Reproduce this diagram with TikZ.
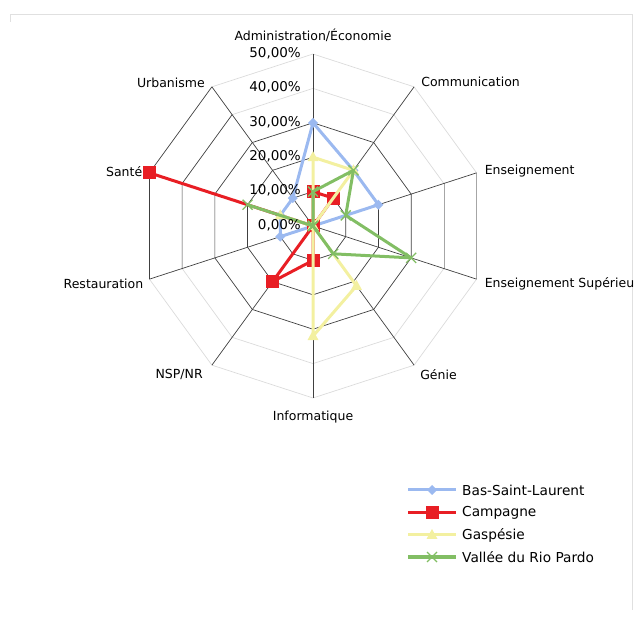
\documentclass[tikz,border=0pt]{standalone}
\usepackage{fontspec}
\setmainfont{DejaVu Sans}
\usetikzlibrary{positioning}

\definecolor{bslblue}{RGB}{155,185,240}
\definecolor{camred}{RGB}{232,30,36}
\definecolor{gasyellow}{RGB}{243,240,160}
\definecolor{riogreen}{RGB}{130,190,100}

\tikzset{
  gridline/.style={black!75, line width=0.7pt},
  midgrid/.style={black!35, line width=0.7pt},
  faintgrid/.style={black!14, line width=0.7pt},
  axislabel/.style={font=\fontsize{12.5}{15}\selectfont, inner sep=0pt},
  ticklabel/.style={font=\fontsize{13.5}{16}\selectfont, anchor=east, inner sep=0pt},
  legendlabel/.style={font=\fontsize{13.7}{16}\selectfont, anchor=west, inner sep=0pt},
  serie/.style={line width=3pt, line join=round},
}

% markers of the four series
\newcommand{\bslmark}[1]{\fill[bslblue] (#1) +(0,5) -- +(5,0) -- +(0,-5) -- +(-5,0) -- cycle;}
\newcommand{\cammark}[1]{\fill[camred] (#1) +(-6.5,-6.5) rectangle +(6.5,6.5);}
\newcommand{\gasmark}[1]{\fill[gasyellow] (#1) +(0,6) -- +(5.5,-4) -- +(-5.5,-4) -- cycle;}
\newcommand{\riomark}[1]{\draw[riogreen, line width=1.3pt] (#1) +(-5,-5) -- +(5,5) (#1) +(-5,5) -- +(5,-5);}

\begin{document}
\begin{tikzpicture}[x=1pt,y=1pt]
  \useasboundingbox (0,0) rectangle (639,634);

  % faint frame of the chart area
  \draw[black!12] (10,612) -- (10,620) -- (632,620) -- (632,24);

  \begin{scope}[shift={(313,408)}]
    \coordinate (O) at (0,0);

    % points of the grid: axis n, ring k
    \foreach \a [count=\n from 0] in {90,54,18,-18,-54,-90,-126,-162,162,126}{
      \foreach \k in {1,...,5}{
        \coordinate (g\n-\k) at (\a:\k*34.4);
      }
    }

    % Draw the rings
    \foreach \k in {1,2,3}{
      \draw[gridline] (g0-\k) \foreach \n in {1,...,9}{ -- (g\n-\k)} -- cycle;
    }
    \foreach \k in {4,5}{
      \draw[faintgrid] (g9-\k) -- (g0-\k) -- (g1-\k) -- (g2-\k);
      \draw[midgrid] (g2-\k) -- (g3-\k);
      \draw[faintgrid] (g3-\k) -- (g4-\k) -- (g5-\k) -- (g6-\k) -- (g7-\k);
      \draw[gridline] (g7-\k) -- (g8-\k) -- (g9-\k);
    }

    % Draw the axes
    \foreach \n in {0,...,9}{
      \draw[gridline] (O) -- (g\n-5);
    }

    % data points of the series
    \foreach \v [count=\n from 0] in {30,20,20,0,0,0,0,10,10,10}
      \coordinate (bsl\n) at ({90-36*\n}:{\v*3.44});
    \foreach \v [count=\n from 0] in {10,10,0,0,0,10,20,0,50,0}
      \coordinate (cam\n) at ({90-36*\n}:{\v*3.44});
    \foreach \v [count=\n from 0] in {20,20,0,0,21.5,32,0,0,10,0}
      \coordinate (gas\n) at ({90-36*\n}:{\v*3.44});
    \foreach \v [count=\n from 0] in {10,20,10,30,10,0,0,0,20,0}
      \coordinate (rio\n) at ({90-36*\n}:{\v*3.44});

    % Bas-Saint-Laurent
    \draw[serie, bslblue] (bsl0) \foreach \n in {1,...,9}{ -- (bsl\n)} -- cycle;
    \foreach \n in {0,...,9}{\bslmark{bsl\n}}

    % Campagne
    \draw[serie, camred] (cam0) \foreach \n in {1,...,9}{ -- (cam\n)} -- cycle;
    \foreach \n in {0,...,9}{\cammark{cam\n}}

    % Gaspesie
    \draw[serie, gasyellow] (gas0) \foreach \n in {1,...,9}{ -- (gas\n)} -- cycle;
    \foreach \n in {0,...,9}{\gasmark{gas\n}}

    % Vallee du Rio Pardo
    \draw[serie, riogreen] (rio0) \foreach \n in {1,...,9}{ -- (rio\n)} -- cycle;
    \foreach \n in {0,...,9}{\riomark{rio\n}}

    % values on the vertical axis
    \foreach \k/\t in {0/0,1/10,2/20,3/30,4/40,5/50}{
      \node[ticklabel] (tick\k) at (-12,\k*34.4+1) {\t,00\%};
    }

    % axis labels
    \node[axislabel, above=12pt of g0-5] (admin) {Administration/Économie};
    \node[axislabel, right=7pt of g1-5, yshift=5pt] (comm) {Communication};
    \node[axislabel, right=8pt of g2-5, yshift=2pt] (ens) {Enseignement};
    \node[axislabel, right=8pt of g3-5, yshift=-5pt] (enssup) {Enseignement Supérieu};
    \node[axislabel, right=6pt of g4-5, yshift=-9pt] (genie) {Génie};
    \node[axislabel, below=13pt of g5-5] (info) {Informatique};
    \node[axislabel, left=9pt of g6-5, yshift=-9pt] (nsp) {NSP/NR};
    \node[axislabel, left=6pt of g7-5, yshift=-5pt] (resto) {Restauration};
    \node[axislabel, left=7pt of g8-5, yshift=1pt] (sante) {Santé};
    \node[axislabel, left=7pt of g9-5, yshift=4pt] (urba) {Urbanisme};
  \end{scope}

  % legend
  \coordinate (l1a) at (408,144); \coordinate (l1m) at (432,144); \coordinate (l1b) at (456,144);
  \coordinate (l2a) at (408,121); \coordinate (l2m) at (432,121); \coordinate (l2b) at (456,121);
  \coordinate (l3a) at (408,99);  \coordinate (l3m) at (432,99);  \coordinate (l3b) at (456,99);
  \coordinate (l4a) at (408,77);  \coordinate (l4m) at (432,77);  \coordinate (l4b) at (456,77);

  \draw[bslblue, line width=3pt] (l1a) -- (l1b);
  \bslmark{l1m}
  \draw[camred, line width=3pt] (l2a) -- (l2b);
  \cammark{l2m}
  \draw[gasyellow, line width=3pt] (l3a) -- (l3b);
  \gasmark{l3m}
  \draw[riogreen, line width=3pt] (l4a) -- (l4b);
  \riomark{l4m}

  \node[legendlabel, right=6pt of l1b] (leg1) {Bas-Saint-Laurent};
  \node[legendlabel, right=6pt of l2b] (leg2) {Campagne};
  \node[legendlabel, right=6pt of l3b] (leg3) {Gaspésie};
  \node[legendlabel, right=6pt of l4b] (leg4) {Vallée du Rio Pardo};

\end{tikzpicture}
\end{document}
